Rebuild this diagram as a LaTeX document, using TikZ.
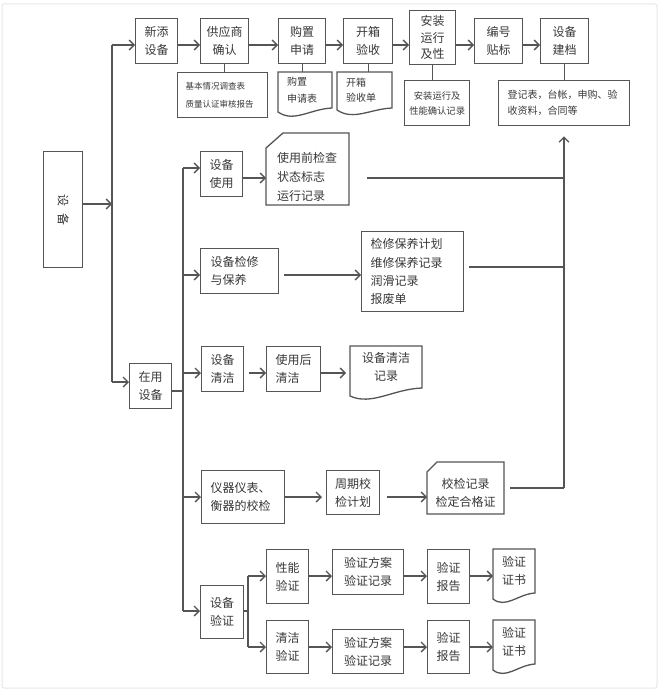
\documentclass[tikz,border=0pt]{standalone}
\usepackage{fontspec}
\setmainfont{Noto Sans CJK SC}
\usetikzlibrary{arrows.meta}
\definecolor{lc}{HTML}{555555}
\definecolor{tc}{HTML}{383838}
\definecolor{framec}{HTML}{E6E6E6}
\newcommand\fz[2]{\fontsize{#1pt}{#2pt}\selectfont}
\tikzset{
  ln/.style={draw=lc, line width=1.3pt},
  arr/.style={ln, -{Straight Barb[length=5pt,width=10pt]}},
  bx/.style={draw=lc, line width=1.3pt, inner sep=0pt, anchor=north west, align=center, text=tc, font=\fz{12}{18}},
  lbx/.style 2 args={bx, align=left, inner xsep=#1, text width=#2},
  tx/.style={inner sep=0pt, anchor=north west, align=center, text=tc, font=\fz{12}{18}},
}
\begin{document}
\begin{tikzpicture}[x=1pt,y=-1pt]
\useasboundingbox (0,0) rectangle (670,698);
\draw[draw=framec, line width=1pt, rounded corners=2pt] (2,4) rectangle (657,688);

% left root
\node[bx, minimum width=39, minimum height=116] (sb) at (43,151) {\rotatebox{-90}{设\hspace{7pt}备}};

% top row
\node[bx, minimum width=42, minimum height=45] (xt) at (135,18) {新添\\设备};
\node[bx, minimum width=48, minimum height=45] (gy) at (200,18) {供应商\\确认};
\node[bx, minimum width=47, minimum height=45] (gz) at (278,18) {购置\\申请};
\node[bx, minimum width=49, minimum height=45] (kx) at (343,18) {开箱\\验收};
\node[bx, minimum width=46, minimum height=54, font=\fz{12}{16.5}] (az) at (409,10) {安装\\运行\\及性};
\node[bx, minimum width=48, minimum height=45] (bh) at (474,18) {编号\\贴标};
\node[bx, minimum width=48, minimum height=45] (ja) at (540,18) {设备\\建档};

\node[lbx={8}{74}, minimum height=45, font=\fz{8.5}{18}] (jb) at (177,72) {基本情况调查表\\质量认证审核报告};
\node[tx, minimum width=54, minimum height=36, align=left, inner xsep=9, text width=36, font=\fz{10}{17}] (gzb) at (278,72) {购置\\申请表};
\node[tx, minimum width=55, minimum height=36, align=left, inner xsep=9, text width=37, font=\fz{10}{15}] (kxb) at (337,72) {开箱\\验收单};
\node[bx, minimum width=65, minimum height=45, font=\fz{9.3}{15}] (azb) at (404,80) {安装运行及\\性能确认记录};
\node[lbx={9}{113}, minimum height=45, font=\fz{10}{16}] (jab) at (498,80) {登记表，台帐，申购、验\\收资料，合同等};

% document outlines (top)
\draw[ln] (278,112) -- (278,72) -- (332,72) -- (332,108) .. controls (310,109) and (294,123) .. (278,112) -- cycle;
\draw[ln] (337,110) -- (337,72) -- (392,72) -- (392,108) .. controls (370,109) and (353.5,121) .. (337,110) -- cycle;

% top connectors
\foreach \a/\b in {xt/gy, gy/gz, gz/kx, kx/az, az/bh, bh/ja}
  \draw[arr] (\a.east |- 0,45) -- (\b.west |- 0,45);
\draw[ln] (gy.south) -- (gy.south |- jb.north);
\draw[ln] (gz.south) -- (gz.south |- gzb.north);
\draw[ln] (kx.south) -- (kx.south |- kxb.north);
\draw[ln] (az.south) -- (az.south |- azb.north);
\draw[ln] (ja.south) -- (ja.south |- jab.north);

% in-use branch nodes
\node[bx, minimum width=42, minimum height=45] (sy) at (200,151) {设备\\使用};
\node[tx, minimum width=83, minimum height=57, align=left, inner xsep=11, text width=61, font=\fz{12}{19}] (d1) at (266,148) {使用前检查\\状态标志\\运行记录};
\draw[ln] (266,148) -- (283,133) -- (349,133) -- (349,205) -- (266,205) -- cycle;
\node[lbx={10}{58}, minimum height=45] (jx) at (200,248) {设备检修\\与保养};
\node[lbx={9}{84}, minimum height=80, font=\fz{12}{18.3}] (jb2) at (361,231) {检修保养计划\\维修保养记录\\润滑记录\\报废单};
\node[bx, minimum width=42, minimum height=45] (zy) at (129,363) {在用\\设备};
\node[bx, minimum width=42, minimum height=45] (sq) at (201,346) {设备\\清洁};
\node[lbx={9}{36}, minimum height=45] (sh) at (266,346) {使用后\\清洁};
\node[tx, minimum width=72, minimum height=42] (d2) at (350,346) {设备清洁\\记录};
\draw[ln] (350,396) -- (350,346) -- (422,346) -- (422,388) .. controls (393.2,389) and (371.6,406) .. (350,396) -- cycle;
\node[lbx={9}{65}, minimum height=53] (yq) at (201,470) {仪器仪表、\\衡器的校检};
\node[bx, minimum width=53, minimum height=44] (zq) at (326,470) {周期校\\检计划};
\node[tx, minimum width=77, minimum height=42] (d3) at (427,472) {校检记录\\检定合格证};
\draw[ln] (427,472) -- (437,462) -- (504,462) -- (504,514) -- (427,514) -- cycle;
\node[bx, minimum width=43, minimum height=53] (yz) at (200,585) {设备\\验证};
\node[bx, minimum width=42, minimum height=54] (xn) at (266,549) {性能\\验证};
\node[bx, minimum width=71, minimum height=45] (fa1) at (332,549) {验证方案\\验证记录};
\node[bx, minimum width=42, minimum height=54] (bg1) at (427,549) {验证\\报告};
\node[tx, minimum width=42, minimum height=44] (zs1) at (493,549) {验证\\证书};
\draw[ln] (493,599) -- (493,549) -- (535,549) -- (535,593) .. controls (518.2,594) and (505.6,609) .. (493,599) -- cycle;
\node[bx, minimum width=42, minimum height=53] (qj) at (266,620) {清洁\\验证};
\node[bx, minimum width=71, minimum height=44] (fa2) at (332,629) {验证方案\\验证记录};
\node[bx, minimum width=42, minimum height=53] (bg2) at (427,620) {验证\\报告};
\node[tx, minimum width=42, minimum height=44] (zs2) at (493,620) {验证\\证书};
\draw[ln] (493,670) -- (493,620) -- (535,620) -- (535,664) .. controls (518.2,665) and (505.6,680) .. (493,670) -- cycle;

% trunks
\coordinate (L1t) at (112,45);
\coordinate (L1b) at (112,382);
\coordinate (L2t) at (183,168);
\coordinate (L2b) at (183,611);
\coordinate (Rb) at (564,488);
\coordinate (Vb) at (248,611);

\draw[arr] (sb.east |- 0,204) -- (L1t |- 0,204);
\draw[ln] (L1t) -- (L1b);
\draw[arr] (L1t) -- (xt.west |- L1t);
\draw[arr] (L1b) -- (zy.west |- L1b);

\draw[ln] (zy.east |- 0,391) -- (L2t |- 0,391);
\draw[ln] (L2t) -- (L2b);
\draw[arr] (L2t) -- (sy.west |- L2t);
\draw[arr] (L2t |- 0,275) -- (jx.west |- 0,275);
\draw[arr] (L2t |- 0,373) -- (sq.west |- 0,373);
\draw[arr] (L2t |- 0,497) -- (yq.west |- 0,497);
\draw[arr] (L2b) -- (yz.west |- L2b);

% row connectors
\draw[arr] (sy.east |- 0,178) -- (d1.west |- 0,178);
\draw[arr, shorten <=5pt] (jx.east |- 0,275) -- (jb2.west |- 0,275);
\draw[arr, shorten <=5pt] (sq.east |- 0,373) -- (sh.west |- 0,373);
\draw[arr, shorten >=4pt] (sh.east |- 0,373) -- (d2.west |- 0,373);
\draw[arr, shorten >=4pt] (yq.east |- 0,497) -- (zq.west |- 0,497);
\draw[arr, shorten <=7pt] (zq.east |- 0,497) -- (d3.west |- 0,497);

% return line to archive
\draw[ln, shorten <=18pt] (d1.east |- 0,178) -- (Rb |- 0,178);
\draw[ln, shorten <=5pt] (jb2.east |- 0,267) -- (Rb |- 0,267);
\draw[ln, shorten <=6pt] (d3.east |- 0,488) -- (Rb);
\draw[arr, shorten >=10pt] (Rb) -- (Rb |- jab.south);

% verification branch
\draw[ln] (yz.east |- Vb) -- (Vb);
\draw[ln] (Vb |- 0,576) -- (Vb |- 0,647);
\draw[arr] (Vb |- 0,576) -- (xn.west |- 0,576);
\draw[arr] (Vb |- 0,647) -- (qj.west |- 0,647);
\draw[arr] (xn.east |- 0,576) -- (fa1.west |- 0,576);
\draw[arr] (fa1.east |- 0,576) -- (bg1.west |- 0,576);
\draw[arr] (bg1.east |- 0,576) -- (zs1.west |- 0,576);
\draw[arr] (qj.east |- 0,647) -- (fa2.west |- 0,647);
\draw[arr] (fa2.east |- 0,647) -- (bg2.west |- 0,647);
\draw[arr] (bg2.east |- 0,647) -- (zs2.west |- 0,647);
\end{tikzpicture}
\end{document}
